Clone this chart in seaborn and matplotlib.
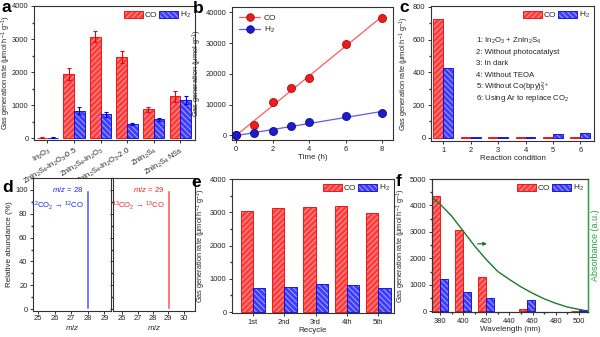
import numpy as np
import pandas as pd
import matplotlib
matplotlib.use('Agg')
import matplotlib.pyplot as plt
import seaborn as sns
from matplotlib.patches import Patch
from matplotlib.lines import Line2D
from matplotlib.ticker import AutoMinorLocator
from matplotlib.colors import to_rgba

# ---------------- data ----------------
a_samples = ['In$_2$O$_3$', 'ZnIn$_2$S$_4$-In$_2$O$_3$-0.5', 'ZnIn$_2$S$_4$-In$_2$O$_3$',
             'ZnIn$_2$S$_4$-In$_2$O$_3$-2.0', 'ZnIn$_2$S$_4$', 'ZnIn$_2$S$_4$ NSs']
a_co = [20, 1945, 3075, 2450, 875, 1270]
a_co_err = [10, 175, 160, 175, 80, 165]
a_h2 = [20, 840, 725, 435, 575, 1155]
a_h2_err = [10, 95, 70, 35, 55, 120]

b_time = [0, 1, 2, 3, 4, 6, 8]
b_co = [0, 3250, 10800, 15400, 18600, 29600, 38000]
b_h2 = [0, 650, 1500, 3000, 4400, 6150, 7350]

c_cond = ['1', '2', '3', '4', '5', '6']
c_co = [728, 3, 3, 3, 3, 3]
c_h2 = [425, 3, 3, 3, 22, 27]
c_notes = ['1: In$_2$O$_3$ + ZnIn$_2$S$_4$', '2: Without photocatalyst', '3: In dark',
           '4: Without TEOA', '5: Without Co(bpy)$_3^{2+}$', '6: Using Ar to replace CO$_2$']

d_mz_12 = ['25', '26', '27', '28', '29']
d_ab_12 = [0, 0, 0, 100, 0]
d_mz_13 = ['26', '27', '28', '29', '30']
d_ab_13 = [0, 0, 0, 100, 0]

e_cycle = ['1st', '2nd', '3rd', '4th', '5th']
e_co = [3030, 3130, 3160, 3190, 2970]
e_h2 = [715, 765, 845, 805, 715]

f_wl = [380, 400, 420, 455, 500]
f_co = [4350, 3080, 1300, 90, 20]
f_h2 = [1230, 735, 495, 405, 50]
f_abs_wl = [373, 380, 390, 400, 410, 420, 430, 440, 450, 460, 470, 480, 490, 500, 505]
f_abs = [0.86, 0.81, 0.72, 0.606, 0.492, 0.39, 0.30, 0.24, 0.184, 0.136, 0.094, 0.06, 0.032, 0.014, 0.006]

# ---------------- style ----------------
sns.set_theme(style='ticks')
plt.rcParams['font.family'] = ['Liberation Sans', 'DejaVu Sans']
plt.rcParams.update({
    'mathtext.fontset': 'custom',
    'mathtext.rm': 'Liberation Sans',
    'mathtext.it': 'Liberation Sans:italic',
    'mathtext.bf': 'Liberation Sans:bold',
    'axes.edgecolor': '#333333',
    'axes.linewidth': 0.8,
    'xtick.color': '#333333', 'ytick.color': '#333333',
    'xtick.labelcolor': '#222222', 'ytick.labelcolor': '#222222',
    'xtick.major.size': 2.5, 'ytick.major.size': 2.5,
    'xtick.minor.size': 1.5, 'ytick.minor.size': 1.5,
    'xtick.major.width': 0.7, 'ytick.major.width': 0.7,
    'xtick.major.pad': 1.5, 'ytick.major.pad': 1.5,
    'xtick.labelsize': 5.4, 'ytick.labelsize': 5.4,
    'axes.labelsize': 5.8, 'axes.labelpad': 1.2,
    'hatch.linewidth': 0.7,
})

RED_FACE, RED_EDGE, RED_HC = '#ff3c3c', '#f00000', '#ffa0a0'
BLUE_FACE, BLUE_EDGE, BLUE_HC = '#3c3cff', '#0000e6', '#a8a8ff'
RED_H, BLUE_H = '//////', '\\\\\\\\\\\\'
palette = {'CO': RED_FACE, 'H2': BLUE_FACE}
YLAB = 'Gas generation rate (\u03bcmol h$^{-1}$ g$^{-1}$)'
YLAB_FS = 5.3

W, H = 600, 337
fig = plt.figure(figsize=(W / 100, H / 100), dpi=100)


def add_ax(l, r, t, b):
    return fig.add_axes([l / W, 1 - b / H, (r - l) / W, (b - t) / H])


def long_df(cats, co, h2, name='cat'):
    return pd.DataFrame({name: list(cats) * 2, 'val': list(co) + list(h2),
                         'gas': ['CO'] * len(cats) + ['H2'] * len(cats)})


def paint(p, fc, ec, h, hc):
    p.set_facecolor(fc)
    p.set_edgecolor(ec)
    p.set_hatch(h)
    p.set_linewidth(0.6)
    p._hatch_color = to_rgba(hc)


def style_bars(ax):
    for cont, spec in zip(ax.containers[:2], [(RED_FACE, RED_EDGE, RED_H, RED_HC),
                                             (BLUE_FACE, BLUE_EDGE, BLUE_H, BLUE_HC)]):
        for p in cont:
            paint(p, *spec)


def bar_legend(ax):
    h1 = Patch(); paint(h1, RED_FACE, RED_EDGE, RED_H, RED_HC)
    h2 = Patch(); paint(h2, BLUE_FACE, BLUE_EDGE, BLUE_H, BLUE_HC)
    ax.legend([h1, h2], ['CO', 'H$_2$'], loc='upper right', ncol=2, frameon=False, fontsize=6,
              handlelength=2.3, handleheight=1.0, columnspacing=0.2, handletextpad=0.2,
              borderaxespad=0.3, borderpad=0.2)


def box(ax):
    for s in ax.spines.values():
        s.set_visible(True)


# ---------------- panel a ----------------
ax = add_ax(34, 195, 6, 140)
dfa = long_df(range(len(a_samples)), a_co, a_h2)
sns.barplot(data=dfa, x='cat', y='val', hue='gas', palette=palette, width=0.8,
            errorbar=None, legend=False, ax=ax)
style_bars(ax)
for cont, errs, col in zip(ax.containers[:2], [a_co_err, a_h2_err], [RED_EDGE, BLUE_EDGE]):
    xs = [p.get_x() + p.get_width() / 2 for p in cont]
    ys = [p.get_height() for p in cont]
    ax.errorbar(xs, ys, yerr=errs, fmt='none', ecolor=col, elinewidth=0.8, capsize=1.5, capthick=0.8)
ax.set_xlim(-0.5, 5.55)
ax.set_ylim(-50, 4000)
ax.set_yticks([0, 1000, 2000, 3000, 4000])
ax.yaxis.set_minor_locator(AutoMinorLocator(2))
ax.set_xticks(range(len(a_samples)))
ax.set_xticklabels(a_samples, rotation=32, ha='right', rotation_mode='anchor')
ax.set_xlabel('')
ax.set_ylabel(YLAB, fontsize=YLAB_FS)
ax.yaxis.set_label_coords(-0.13, 0.5)
bar_legend(ax)
box(ax)

# ---------------- panel b ----------------
ax = add_ax(232, 393, 7, 140)
RED_PT, BLUE_PT = '#ee1c1c', '#1c1ccc'
sns.regplot(x=np.array(b_time), y=np.array(b_co), ci=None, scatter=False, ax=ax,
            line_kws=dict(color='#ff5a5a', lw=0.9))
sns.regplot(x=np.array(b_time), y=np.array(b_h2), ci=None, scatter=False, ax=ax,
            line_kws=dict(color='#5a5aff', lw=0.9))
sns.scatterplot(x=b_time, y=b_co, ax=ax, color=RED_PT, edgecolor='#990000', s=34, linewidth=0.5, zorder=3)
sns.scatterplot(x=b_time, y=b_h2, ax=ax, color=BLUE_PT, edgecolor='#000077', s=34, linewidth=0.5, zorder=3)
ax.set_xlim(-0.22, 8.6)
ax.set_ylim(-1500, 41700)
ax.set_xticks([0, 2, 4, 6, 8])
ax.set_yticks([0, 10000, 20000, 30000, 40000])
ax.set_xlabel('Time (h)')
ax.set_ylabel('Gas generation (\u03bcmol g$^{-1}$)', fontsize=YLAB_FS)
hb = [Line2D([], [], color='#ff5a5a', lw=0.9, marker='o', markersize=5.5, markerfacecolor=RED_PT,
             markeredgecolor='#990000', markeredgewidth=0.5),
      Line2D([], [], color='#5a5aff', lw=0.9, marker='o', markersize=5.5, markerfacecolor=BLUE_PT,
             markeredgecolor='#000077', markeredgewidth=0.5)]
ax.legend(hb, ['CO', 'H$_2$'], loc='upper left', frameon=False, fontsize=6, handlelength=2.6,
          handletextpad=0.4, labelspacing=0.35, borderaxespad=0.4)
box(ax)

# ---------------- panel c ----------------
ax = add_ax(431, 594, 6, 141)
dfc = long_df(c_cond, c_co, c_h2)
sns.barplot(data=dfc, x='cat', y='val', hue='gas', palette=palette, width=0.72,
            errorbar=None, legend=False, ax=ax)
style_bars(ax)
ax.set_xlim(-0.45, 5.5)
ax.set_ylim(-20, 806)
ax.set_yticks([0, 200, 400, 600, 800])
ax.yaxis.set_minor_locator(AutoMinorLocator(2))
ax.set_xlabel('Reaction condition')
ax.set_ylabel(YLAB, fontsize=YLAB_FS)
bar_legend(ax)
for i, t in enumerate(c_notes):
    ax.text(0.275, 0.745 - i * 0.086, t, transform=ax.transAxes, fontsize=5.6, va='center', ha='left',
            color='#222222')
box(ax)

# ---------------- panel d ----------------
axl = add_ax(33, 111, 178, 311)
axr = add_ax(113, 195, 178, 311)
sns.barplot(x=d_mz_12, y=d_ab_12, color='#5a5aff', width=0.2, ax=axl, saturation=1)
sns.barplot(x=d_mz_13, y=d_ab_13, color='#ff5a5a', width=0.2, ax=axr, saturation=1)
for a_ in (axl, axr):
    a_.set_ylim(-1.5, 110)
    a_.set_yticks([0, 20, 40, 60, 80, 100])
    a_.yaxis.set_minor_locator(AutoMinorLocator(2))
    a_.tick_params(axis='x', length=2, pad=1)
    a_.set_xlabel('$m/z$', labelpad=0.5)
    box(a_)
axl.set_xlim(-0.3, 4.4)
axr.set_xlim(-0.6, 4.75)
axr.set_yticklabels([])
axl.set_ylabel('Relative abundance (%)')
axl.text(2.75, 100, '$m/z$ = 28', color='#2020ee', fontsize=5.6, ha='right', va='center')
axl.text(2.75, 87, '$^{12}$CO$_2$ \u2192 $^{12}$CO', color='#2020ee', fontsize=5.6, ha='right', va='center')
axr.text(2.75, 100, '$m/z$ = 29', color='#ff2020', fontsize=5.6, ha='right', va='center')
axr.text(2.75, 87, '$^{13}$CO$_2$ \u2192 $^{13}$CO', color='#ff2020', fontsize=5.6, ha='right', va='center')

# ---------------- panel e ----------------
ax = add_ax(232, 394, 179, 313)
dfe = long_df(e_cycle, e_co, e_h2)
sns.barplot(data=dfe, x='cat', y='val', hue='gas', palette=palette, width=0.78,
            errorbar=None, legend=False, ax=ax)
style_bars(ax)
ax.set_xlim(-0.67, 4.5)
ax.set_ylim(-30, 4000)
ax.set_yticks([0, 1000, 2000, 3000, 4000])
ax.yaxis.set_minor_locator(AutoMinorLocator(2))
ax.set_xlabel('Recycle')
ax.set_ylabel(YLAB, fontsize=YLAB_FS)
bar_legend(ax)
box(ax)

# ---------------- panel f ----------------
ax = add_ax(432, 588, 179, 312)
dff = long_df(f_wl, f_co, f_h2)
sns.barplot(data=dff, x='cat', y='val', hue='gas', palette=palette, width=0.69, native_scale=True,
            errorbar=None, legend=False, ax=ax)
style_bars(ax)
ax.set_xlim(373, 508)
ax.set_ylim(-30, 5000)
ax.set_xticks([380, 400, 420, 440, 460, 480, 500])
ax.set_yticks([0, 1000, 2000, 3000, 4000, 5000])
ax.xaxis.set_minor_locator(AutoMinorLocator(2))
ax.yaxis.set_minor_locator(AutoMinorLocator(2))
ax.set_xlabel('Wavelength (nm)')
ax.set_ylabel(YLAB, fontsize=YLAB_FS)
bar_legend(ax)
box(ax)
GREEN = '#1a7a2a'
ax2 = ax.twinx()
sns.lineplot(x=f_abs_wl, y=f_abs, ax=ax2, color=GREEN, lw=1.0)
ax2.set_ylim(-0.006, 1.0)
ax2.set_yticks([])
ax2.spines['right'].set_color('#2aa040')
ax2.spines['right'].set_linewidth(1.0)
ax2.set_ylabel('Absorbance (a.u.)', color='#2aa040', fontsize=6.5, labelpad=2)
ax2.annotate('', xy=(423, 0.51), xytext=(410, 0.51),
             arrowprops=dict(arrowstyle='-|>', color=GREEN, lw=0.9, mutation_scale=5))
ax2.set_xlim(373, 508)

# ---------------- panel letters ----------------
for lab, x, y in [('a', 1, 12), ('b', 193, 13), ('c', 399, 12), ('d', 2, 192), ('e', 191, 187), ('f', 396, 186)]:
    fig.text(x / W, 1 - y / H, lab, fontsize=12.5, fontweight='bold', va='baseline', ha='left', color='black')

fig.savefig('out.png', dpi=100)
